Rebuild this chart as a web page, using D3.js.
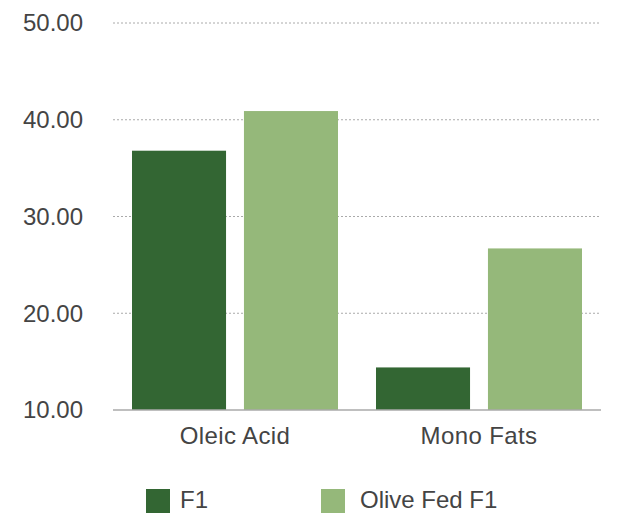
<!DOCTYPE html>
<html>
<head>
<meta charset="utf-8">
<script src="https://cdn.jsdelivr.net/npm/d3@7"></script>
<style>
  body { margin: 0; background: #fff; }
  text { font-family: "Liberation Sans", Helvetica, Arial, sans-serif; fill: #444; }
</style>
</head>
<body>
<div id="chart"></div>
<script>
const categories = ["Oleic Acid", "Mono Fats"];
const seriesNames = ["F1", "Olive Fed F1"];
const f1Values = [36.8, 14.4];
const oliveValues = [40.9, 26.7];
const yTicks = [10, 20, 30, 40, 50];
const colors = ["#336633", "#95b87a"];

const width = 620;
const height = 528;
const margin = {top: 23, right: 19, bottom: 118, left: 113};

const svg = d3.select("#chart")
  .append("svg")
  .attr("width", width)
  .attr("height", height);

const x0 = d3.scaleBand()
  .domain(categories)
  .range([margin.left, width - margin.right])
  .paddingInner(0)
  .paddingOuter(0);

const x1 = d3.scaleBand()
  .domain(seriesNames)
  .range([19, x0.bandwidth() - 19])
  .paddingInner(0.16);

const y = d3.scaleLinear()
  .domain([10, 50])
  .range([height - margin.bottom, margin.top]);

// grid
svg.append("g")
  .selectAll("line")
  .data(yTicks.filter(d => d > 10))
  .join("line")
  .attr("x1", margin.left)
  .attr("x2", width - margin.right)
  .attr("y1", d => y(d))
  .attr("y2", d => y(d))
  .attr("stroke", "#aaa")
  .attr("stroke-width", 1)
  .attr("stroke-dasharray", "2,2");

// y labels
svg.append("g")
  .selectAll("text")
  .data(yTicks)
  .join("text")
  .attr("x", 83)
  .attr("y", d => y(d))
  .attr("dy", "0.35em")
  .attr("text-anchor", "end")
  .style("font-size", "24px")
  .text(d => d3.format(".2f")(d));

const rows = categories.map((c, i) => ({cat: c, vals: [f1Values[i], oliveValues[i]]}));

svg.append("g")
  .selectAll("g")
  .data(rows)
  .join("g")
  .attr("transform", d => `translate(${x0(d.cat)},0)`)
  .selectAll("rect")
  .data(d => d.vals.map((v, j) => ({name: seriesNames[j], v, j})))
  .join("rect")
  .attr("x", d => x1(d.name))
  .attr("width", x1.bandwidth())
  .attr("y", d => y(d.v))
  .attr("height", d => y(10) - y(d.v))
  .attr("fill", d => colors[d.j]);

// baseline
svg.append("line")
  .attr("x1", margin.left)
  .attr("x2", width - margin.right)
  .attr("y1", y(10))
  .attr("y2", y(10))
  .attr("stroke", "#aaa")
  .attr("stroke-width", 1.5);

// category labels
svg.append("g")
  .selectAll("text")
  .data(categories)
  .join("text")
  .attr("x", d => x0(d) + x0.bandwidth() / 2)
  .attr("y", 444)
  .attr("text-anchor", "middle")
  .style("font-size", "24px")
  .style("letter-spacing", "0.4px")
  .text(d => d);

// legend
const legendX = [146, 321];
const legend = svg.append("g")
  .selectAll("g")
  .data(seriesNames)
  .join("g")
  .attr("transform", (d, i) => `translate(${legendX[i]},489)`);

legend.append("rect")
  .attr("width", 24)
  .attr("height", 24)
  .attr("fill", (d, i) => colors[i]);

legend.append("text")
  .attr("x", (d, i) => i === 0 ? 34 : 39)
  .attr("y", 19)
  .style("font-size", "24px")
  .text(d => d);
</script>
</body>
</html>
